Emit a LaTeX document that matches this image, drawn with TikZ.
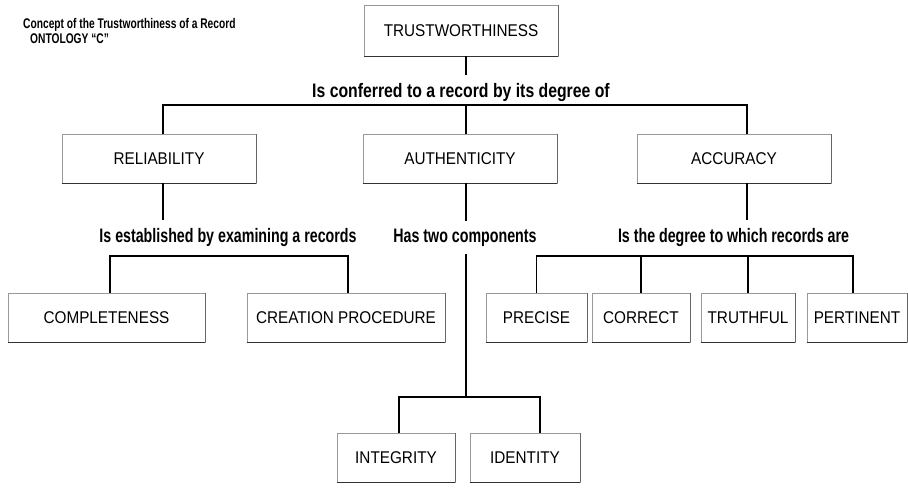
\documentclass[tikz,border=0pt]{standalone}
\usepackage{fontspec}
\usepackage{tikz}

\newfontfamily\boxfont{Liberation Sans}[FakeStretch=0.9]
\newfontfamily\labfont{Liberation Sans}[FakeStretch=0.73]
\newfontfamily\widelabfont{Liberation Sans}[FakeStretch=0.81]

\tikzset{
  box/.style={rectangle, draw=black!40, line width=0.6pt, inner sep=0pt,
    minimum height=49pt, font=\boxfont\fontsize{17}{20}\selectfont,
    append after command={(\tikzlastnode.south west) edge[draw=black!80, line width=1.4pt] (\tikzlastnode.south east)
      (\tikzlastnode.south east) edge[draw=black!60, line width=0.9pt] (\tikzlastnode.north east)}},
  lab/.style={inner sep=0pt, outer ysep=8pt, anchor=base, font=\labfont\bfseries\fontsize{19.5}{22}\selectfont},
  conn/.style={draw=black, line width=1.5pt}
}

\begin{document}
\begin{tikzpicture}[x=1pt, y=-1pt]
    \useasboundingbox (0,0) rectangle (908,488);

    % title
    \node (title1) [anchor=base west, inner sep=0pt, font=\labfont\bfseries\fontsize{14}{16}\selectfont] at (23,28) {Concept of the Trustworthiness of a Record};
    \node (title2) [anchor=base west, inner sep=0pt, font=\labfont\bfseries\fontsize{14}{16}\selectfont] at (30,43) {ONTOLOGY “C”};

    % boxes
    \node (trust) [box, minimum width=194pt, minimum height=51pt] at (461,30.5) {TRUSTWORTHINESS};
    \node (reli) [box, minimum width=194pt] at (159,158.5) {RELIABILITY};
    \node (auth) [box, minimum width=194pt] at (460,158.5) {AUTHENTICITY};
    \node (accu) [box, minimum width=194pt] at (734,158.5) {ACCURACY};
    \node (comp) [box, minimum width=197pt] at (106.5,317.5) {COMPLETENESS};
    \node (crea) [box, minimum width=198pt] at (346,317.5) {CREATION PROCEDURE};
    \node (prec) [box, minimum width=101pt] at (536.5,317.5) {PRECISE};
    \node (corr) [box, minimum width=98pt] at (641,317.5) {CORRECT};
    \node (trut) [box, minimum width=94pt] at (748,317.5) {TRUTHFUL};
    \node (pert) [box, minimum width=100pt] at (857,317.5) {PERTINENT};
    \node (inte) [box, minimum width=118pt] at (396,457.5) {INTEGRITY};
    \node (iden) [box, minimum width=110pt] at (525,457.5) {IDENTITY};

    % relation labels
    \node (conf) [lab, font=\widelabfont\bfseries\fontsize{19.5}{22}\selectfont] at (461,97) {Is conferred to a record by its degree of};
    \node (esta) [lab] at (228,242) {Is established by examining a records};
    \node (comps) [lab] at (465,242) {Has two components};
    \node (degr) [lab] at (733.5,242) {Is the degree to which records are};

    % bus points
    \coordinate (bus1) at (466,105);
    \coordinate (bus2) at (229,256);
    \coordinate (bus3) at (466,397);
    \coordinate (bus4) at (695,256);

    % connectors
    \draw[conn] ([xshift=5pt]trust.south) -- ([xshift=5pt]trust.south |- conf.north);
    \draw[conn] ([xshift=4pt]reli.north) |- (bus1) -| ([xshift=13pt]accu.north);
    \draw[conn] (bus1) -- ([xshift=6pt]auth.north);

    \draw[conn] ([xshift=4pt]reli.south) -- ([xshift=4pt]reli.south |- esta.north);
    \draw[conn] ([xshift=3.5pt]comp.north) |- (bus2) -| ([xshift=2pt]crea.north);

    \draw[conn] ([xshift=6pt]auth.south) -- ([xshift=6pt]auth.south |- comps.north);
    \draw[conn] (bus3 |- comps.south) -- (bus3);
    \draw[conn] ([xshift=3pt]inte.north) |- (bus3) -| ([xshift=15pt]iden.north);

    \draw[conn] ([xshift=13pt]accu.south) -- ([xshift=13pt]accu.south |- degr.north);
    \draw[conn] (prec.north) |- (bus4) -| ([xshift=-4pt]pert.north);
    \draw[conn] (bus4 -| corr.north) -- (corr.north);
    \draw[conn] (bus4 -| trut.north) -- (trut.north);
\end{tikzpicture}
\end{document}
